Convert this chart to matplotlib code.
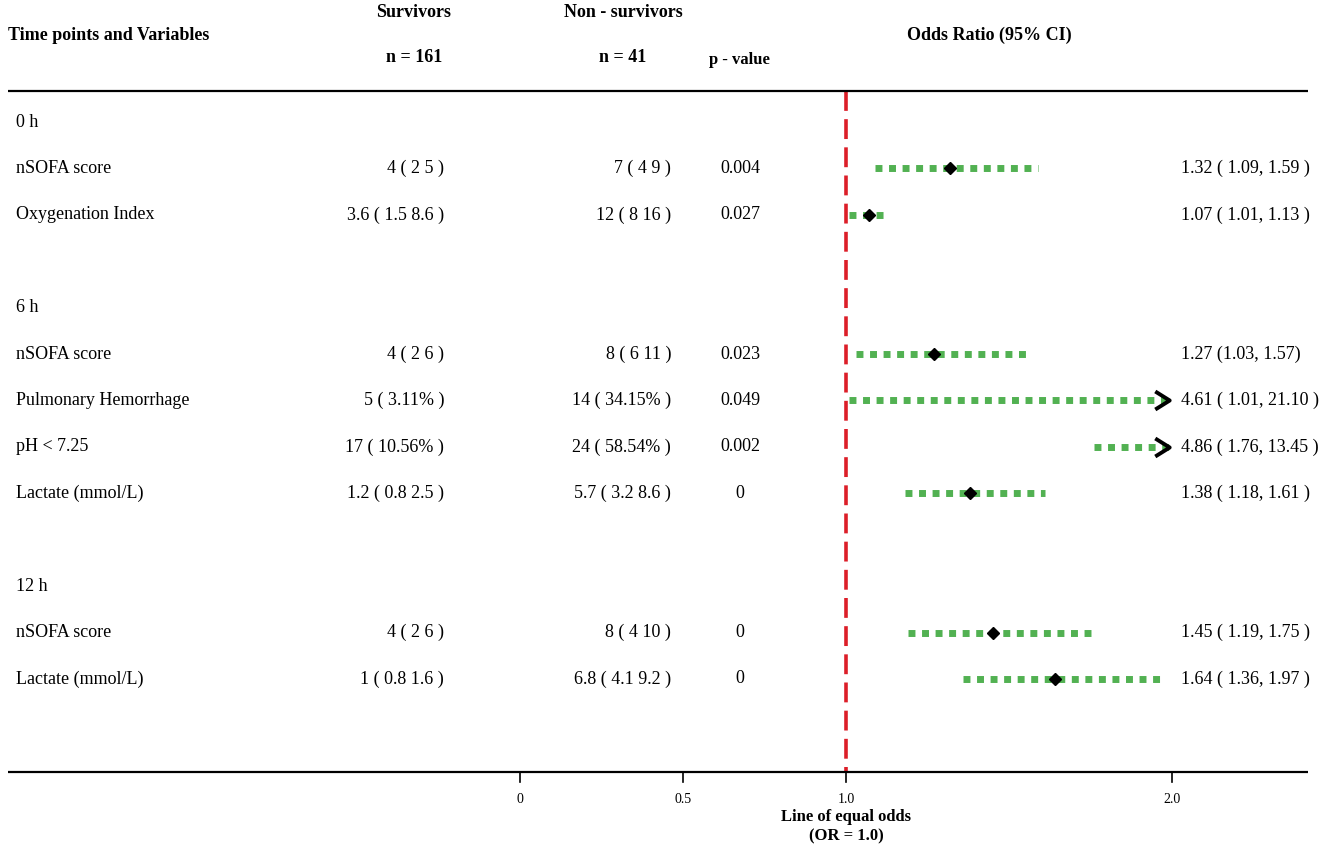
import matplotlib
matplotlib.use("Agg")
import matplotlib.pyplot as plt
import matplotlib.transforms as mtransforms
from matplotlib.path import Path
import numpy as np

plt.rcParams['font.family'] = ['Liberation Serif', 'DejaVu Serif']

# table rows ("" = section header / blank)
row_labels = ["0 h", "nSOFA score", "Oxygenation Index", "",
              "6 h", "nSOFA score", "Pulmonary Hemorrhage", "pH < 7.25", "Lactate (mmol/L)", "",
              "12 h", "nSOFA score", "Lactate (mmol/L)"]
survivors = ["", "4 ( 2 5 )", "3.6 ( 1.5 8.6 )", "",
             "", "4 ( 2 6 )", "5 ( 3.11% )", "17 ( 10.56% )", "1.2 ( 0.8 2.5 )", "",
             "", "4 ( 2 6 )", "1 ( 0.8 1.6 )"]
non_survivors = ["", "7 ( 4 9 )", "12 ( 8 16 )", "",
                 "", "8 ( 6 11 )", "14 ( 34.15% )", "24 ( 58.54% )", "5.7 ( 3.2 8.6 )", "",
                 "", "8 ( 4 10 )", "6.8 ( 4.1 9.2 )"]
p_values = ["", "0.004", "0.027", "",
            "", "0.023", "0.049", "0.002", "0", "",
            "", "0", "0"]
or_text = ["", "1.32 ( 1.09, 1.59 )", "1.07 ( 1.01, 1.13 )", "",
           "", "1.27 (1.03, 1.57)", "4.61 ( 1.01, 21.10 )", "4.86 ( 1.76, 13.45 )", "1.38 ( 1.18, 1.61 )", "",
           "", "1.45 ( 1.19, 1.75 )", "1.64 ( 1.36, 1.97 )"]
or_val = [np.nan, 1.32, 1.07, np.nan, np.nan, 1.27, 4.61, 4.86, 1.38, np.nan, np.nan, 1.45, 1.64]
ci_low = [np.nan, 1.09, 1.01, np.nan, np.nan, 1.03, 1.01, 1.76, 1.18, np.nan, np.nan, 1.19, 1.36]
ci_high = [np.nan, 1.59, 1.13, np.nan, np.nan, 1.57, 21.10, 13.45, 1.61, np.nan, np.nan, 1.75, 1.97]

xticks = [0, 0.5, 1.0, 2.0]
xtick_labels = ["0", "0.5", "1.0", "2.0"]
x_clip = 2.0

fig = plt.figure(figsize=(13.25, 8.52), dpi=100)
ax = fig.add_axes([0, 0, 1, 1])
ax.set_xlim(-1.595, 2.469)
ax.set_ylim(15.73, -2.63)
ax.axis("off")

tb = mtransforms.blended_transform_factory(ax.transAxes, ax.transData)
W = 1325.0
fs = 13

# headers
ax.text(8 / W, -1.875, "Time points and Variables", transform=tb, ha="left", va="center",
        fontsize=fs, fontweight="bold")
ax.text(414 / W, -2.35, "Survivors", transform=tb, ha="center", va="center", fontsize=fs, fontweight="bold")
ax.text(414 / W, -1.40, "n = 161", transform=tb, ha="center", va="center", fontsize=fs, fontweight="bold")
ax.text(623 / W, -2.35, "Non - survivors", transform=tb, ha="center", va="center", fontsize=fs, fontweight="bold")
ax.text(623 / W, -1.40, "n = 41", transform=tb, ha="center", va="center", fontsize=fs, fontweight="bold")
ax.text(739 / W, -1.34, "p - value", transform=tb, ha="center", va="center", fontsize=fs - 1, fontweight="bold")
ax.text(989 / W, -1.875, "Odds Ratio (95% CI)", transform=tb, ha="center", va="center", fontsize=fs, fontweight="bold")

# horizontal rules
ax.plot([8 / W, 1308 / W], [-0.67, -0.67], transform=tb, color="black", lw=1.6, solid_capstyle="butt")
ax.plot([8 / W, 1308 / W], [14, 14], transform=tb, color="black", lw=1.6, solid_capstyle="butt")

# line of equal odds
ax.plot([1.0, 1.0], [-0.67, 14], color="#dc1e28", lw=2.6, dashes=(5.5, 2.3), zorder=1)

# table body
for i in range(len(row_labels)):
    ax.text(16 / W, i, row_labels[i], transform=tb, ha="left", va="center", fontsize=fs)
    ax.text(444 / W, i, survivors[i], transform=tb, ha="right", va="center", fontsize=fs)
    ax.text(671 / W, i, non_survivors[i], transform=tb, ha="right", va="center", fontsize=fs)
    ax.text(740 / W, i, p_values[i], transform=tb, ha="center", va="center", fontsize=fs)
    ax.text(1181 / W, i, or_text[i], transform=tb, ha="left", va="center", fontsize=fs)

chevron = Path([(-0.8, 1.0), (0.8, 0.0), (-0.8, -1.0)], [Path.MOVETO, Path.LINETO, Path.LINETO])

for i in range(len(row_labels)):
    if np.isnan(or_val[i]):
        continue
    hi = min(ci_high[i], x_clip)
    ax.plot([ci_low[i], hi], [i, i], color="#52b152", lw=5, dashes=(1.0, 0.95),
            dash_capstyle="butt", zorder=2)
    if or_val[i] <= x_clip:
        ax.plot(or_val[i], i, marker="D", color="black", markersize=6.5, zorder=3)
    if ci_high[i] > x_clip:
        ax.plot(hi - 0.03, i, marker=chevron, markersize=13, markerfacecolor="none",
                markeredgecolor="black", markeredgewidth=2.8, zorder=3)

# x axis ticks
for t, lab in zip(xticks, xtick_labels):
    ax.plot([t, t], [14, 14.22], color="black", lw=1.2)
    ax.text(t, 14.6, lab, ha="center", va="center", fontsize=10)

ax.text(1.0, 14.98, "Line of equal odds", ha="center", va="center", fontsize=12, fontweight="bold")
ax.text(1.0, 15.4, "(OR = 1.0)", ha="center", va="center", fontsize=12, fontweight="bold")

fig.savefig("out.png", dpi=100)
